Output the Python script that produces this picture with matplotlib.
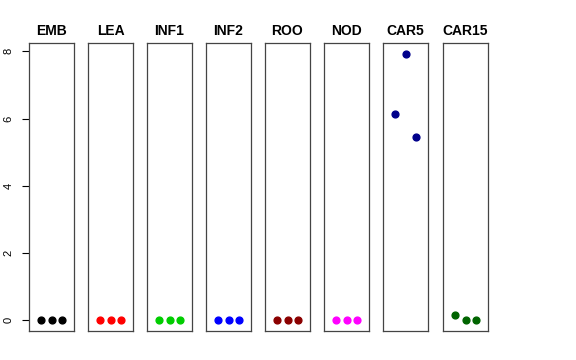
import matplotlib
matplotlib.use("Agg")
import matplotlib.pyplot as plt

plt.rcParams['font.family'] = ['Liberation Sans', 'DejaVu Sans']

# tissues and their three replicate values
tissues = ["EMB", "LEA", "INF1", "INF2", "ROO", "NOD", "CAR5", "CAR15"]
colors = ["black", "red", "#00CD00", "blue", "#8B0000", "magenta", "#00008B", "#006400"]
values = [
    [0, 0, 0],
    [0, 0, 0],
    [0, 0, 0],
    [0, 0, 0],
    [0, 0, 0],
    [0, 0, 0],
    [6.15, 7.93, 5.45],
    [0.15, 0.0, 0.0],
]
reps = [1, 2, 3]
yticks = [0, 2, 4, 6, 8]

fig = plt.figure(figsize=(5.76, 3.6), dpi=100)

W, H = 576, 360
lefts = [29, 88, 147, 206, 265, 324, 383, 443]
pw = 45
top, bottom = 43, 331

ymax = max(max(v) for v in values)
pad = 0.04 * ymax

for i, name in enumerate(tissues):
    ax = fig.add_axes([lefts[i] / W, 1 - bottom / H, pw / W, (bottom - top) / H])
    ax.scatter(reps, values[i], s=24, color=colors[i], zorder=3)
    ax.set_xlim(-0.16, 4.16)
    ax.set_ylim(-pad, ymax + pad)
    ax.set_xticks([])
    for s in ax.spines.values():
        s.set_color("#444444")
        s.set_linewidth(0.9)
    ax.set_title(name, fontsize=10, fontweight="bold", pad=6)
    if i == 0:
        ax.set_yticks(yticks)
        ax.set_yticklabels([str(t) for t in yticks], rotation=90, va="center", fontsize=8)
        ax.tick_params(axis="y", length=5, width=0.8, pad=6)
    else:
        ax.set_yticks([])

fig.savefig("out.png", dpi=100)
